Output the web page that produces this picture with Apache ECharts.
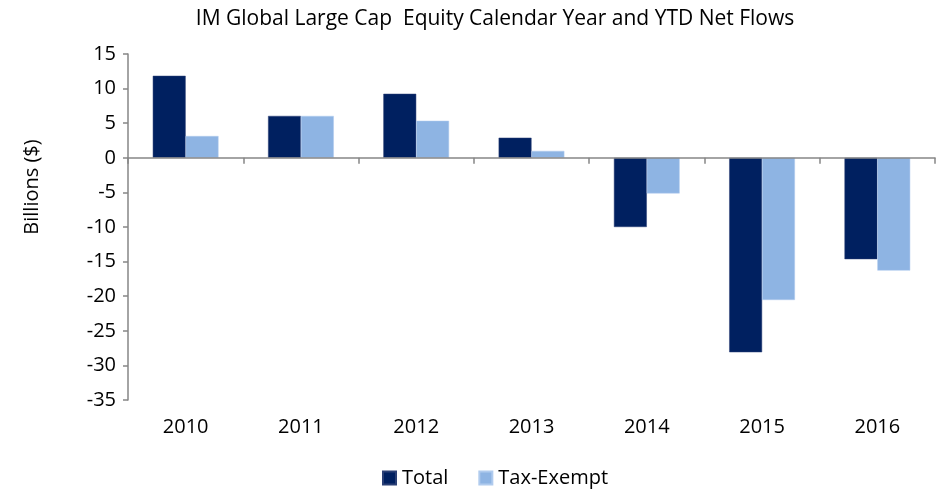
<!DOCTYPE html>
<html><head><meta charset="utf-8">
<script src="https://cdn.jsdelivr.net/npm/echarts@6/dist/echarts.min.js"></script>
<style>html,body{margin:0;padding:0;background:#fff}#c{width:942px;height:493px}</style>
</head><body><div id="c"></div>
<script>
const categories = ['2010','2011','2012','2013','2014','2015','2016'];
const totalValues = [11.85, 6.05, 9.25, 2.9, -10.0, -28.1, -14.65];
const taxExemptValues = [3.15, 6.05, 5.35, 1.0, -5.15, -20.55, -16.3];
const yTicks = {min: -35, max: 15, interval: 5};
const F = '"Open Sans", sans-serif';
const axisGray = '#868686';
const chart = echarts.init(document.getElementById('c'));
chart.setOption({
  animation: false,
  title: {text: 'IM Global Large Cap  Equity Calendar Year and YTD Net Flows', left: 490, textAlign: 'center', top: 4,
    textStyle: {fontFamily: F, fontSize: 21, fontWeight: 'normal', color: '#000'}},
  grid: {left: 128, right: 7, top: 54, bottom: 93},
  legend: {bottom: 0, left: 377, itemWidth: 13, itemHeight: 13, itemGap: 30,
    textStyle: {fontFamily: F, fontSize: 20, color: '#000', padding: [0,0,0,1]},
    data: [{name: 'Total', icon: 'rect'}, {name: 'Tax-Exempt', icon: 'rect'}]},
  xAxis: [
    {type: 'category', data: categories, axisLine: {onZero: true, lineStyle: {color: axisGray, width: 1.5}},
     axisTick: {show: true, length: 6, lineStyle: {color: axisGray, width: 1.5}}, axisLabel: {show: false}, z: 10},
    {type: 'category', data: categories, position: 'bottom', axisLine: {show: false, onZero: false}, axisTick: {show: false},
     axisLabel: {fontFamily: F, fontSize: 20, color: '#000', margin: 17}}
  ],
  yAxis: {type: 'value', min: yTicks.min, max: yTicks.max, interval: yTicks.interval,
    name: 'Billions ($)', nameLocation: 'middle', nameGap: 86, nameRotate: 90,
    nameTextStyle: {fontFamily: F, fontSize: 20, color: '#000', padding: [0, 0, 0, 80]},
    axisLine: {show: true, lineStyle: {color: axisGray, width: 1.5}},
    axisTick: {show: true, length: 5, lineStyle: {color: axisGray, width: 1.5}},
    axisLabel: {fontFamily: F, fontSize: 20, color: '#000', margin: 12},
    splitLine: {show: false}},
  series: [
    {name: 'Total', type: 'bar', data: totalValues, xAxisIndex: 0, barGap: '0%', barCategoryGap: '43%',
     itemStyle: {color: '#002060', borderColor: '#2a3f75', borderWidth: 0.5}},
    {name: 'Tax-Exempt', type: 'bar', data: taxExemptValues, xAxisIndex: 0, barGap: '0%', barCategoryGap: '43%',
     itemStyle: {color: '#8EB4E3', borderColor: '#b0cbee', borderWidth: 0.5}}
  ]
});
</script></body></html>
